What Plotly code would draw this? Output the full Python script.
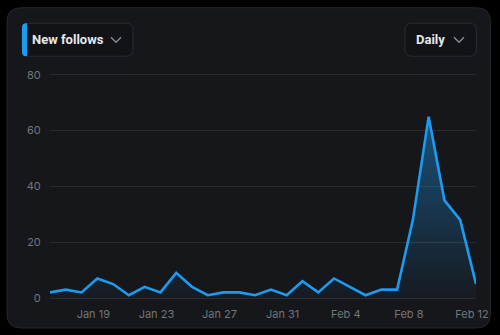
import plotly.graph_objects as go
import pandas as pd

# ---- data ----
start_date = "2024-01-16"
new_follows = [2, 3, 2, 7, 5, 1, 4, 2, 9, 4, 1, 2, 2, 1, 3, 1, 6, 2, 7, 4, 1, 3, 3, 28, 65, 35, 28, 5]
dates = pd.date_range(start_date, periods=len(new_follows), freq="D")
tick_dates = ["2024-01-19", "2024-01-23", "2024-01-27", "2024-01-31", "2024-02-04", "2024-02-08", "2024-02-12"]
tick_labels = ["Jan 19", "Jan 23", "Jan 27", "Jan 31", "Feb 4", "Feb 8", "Feb 12"]
y_ticks = [0, 20, 40, 60, 80]
metric_label = "New follows"
period_label = "Daily"

# ---- layout geometry (pixels) ----
W, H = 500, 335
Y_MAX = 81
L, R, B = 50, 476, 298
PPU = (298 - 75) / 80.0          # pixels per unit on y
T = B - Y_MAX * PPU


def px(x):
    return (x - L) / (R - L)


def py(y):
    return (B - y) / (B - T)


def rrect(x0, y0, x1, y1, r, left_only=False):
    rr = 0 if left_only else r
    p = (f"M {px(x0 + r)},{py(y0)} "
         f"L {px(x1 - rr)},{py(y0)} "
         f"Q {px(x1)},{py(y0)} {px(x1)},{py(y0 + rr)} "
         f"L {px(x1)},{py(y1 - rr)} "
         f"Q {px(x1)},{py(y1)} {px(x1 - rr)},{py(y1)} "
         f"L {px(x0 + r)},{py(y1)} "
         f"Q {px(x0)},{py(y1)} {px(x0)},{py(y1 - r)} "
         f"L {px(x0)},{py(y0 + r)} "
         f"Q {px(x0)},{py(y0)} {px(x0 + r)},{py(y0)} Z")
    return p


def chevron(x0, y0, w, h):
    return f"M {px(x0)},{py(y0)} L {px(x0 + w / 2)},{py(y0 + h)} L {px(x0 + w)},{py(y0)}"


BLUE = "#1d9bf0"
CARD = "#16171b"
BTN = "#121316"
BORDER = "#2a2c31"
MUTED = "#71767b"
GRID = "#2a2c30"

fig = go.Figure()
fig.add_trace(go.Scatter(
    x=dates, y=new_follows, mode="lines",
    line=dict(color=BLUE, width=2.6),
    fill="tozeroy",
    fillgradient=dict(type="vertical", start=0, stop=65,
                      colorscale=[[0, "rgba(29,155,240,0.03)"], [1, "rgba(29,155,240,0.45)"]]),
    hoverinfo="skip", cliponaxis=False,
))

shapes = [
    dict(type="path", xref="paper", yref="paper", layer="below",
         path=rrect(7, 8, 490.5, 328, 14), fillcolor=CARD, line=dict(color="#24262a", width=1)),
    dict(type="path", xref="paper", yref="paper", layer="below",
         path=rrect(22, 23.5, 133, 56.5, 7), fillcolor=BTN, line=dict(color=BORDER, width=1)),
    dict(type="path", xref="paper", yref="paper", layer="above",
         path=rrect(22, 23.5, 27, 56.5, 4, left_only=True), fillcolor=BLUE, line=dict(width=0)),
    dict(type="path", xref="paper", yref="paper", layer="above",
         path=chevron(111, 37.5, 10, 5), line=dict(color="#8b8f96", width=1.3)),
    dict(type="path", xref="paper", yref="paper", layer="below",
         path=rrect(405, 23.5, 476.5, 56.5, 7), fillcolor=BTN, line=dict(color=BORDER, width=1)),
    dict(type="path", xref="paper", yref="paper", layer="above",
         path=chevron(454, 37.5, 10, 5), line=dict(color="#8b8f96", width=1.3)),
]

annotations = [
    dict(text=f"<b>{metric_label}</b>", x=px(30), y=py(40), xref="paper", yref="paper",
         xanchor="left", yanchor="middle", showarrow=False,
         font=dict(family="Roboto", size=13, color="#e7e9ea")),
    dict(text=f"<b>{period_label}</b>", x=px(414), y=py(40), xref="paper", yref="paper",
         xanchor="left", yanchor="middle", showarrow=False,
         font=dict(family="Roboto", size=13, color="#e7e9ea")),
]

fig.update_layout(
    width=W, height=H,
    margin=dict(l=L, r=W - R, t=T, b=H - B, pad=0),
    paper_bgcolor="#000000", plot_bgcolor="rgba(0,0,0,0)",
    showlegend=False,
    font=dict(family="Inter", size=11, color=MUTED),
    shapes=shapes, annotations=annotations,
    xaxis=dict(type="date", range=[dates[0], dates[-1]],
               tickvals=tick_dates, ticktext=tick_labels,
               showgrid=False, zeroline=False, showline=False,
               ticks="outside", ticklen=6, tickcolor="rgba(0,0,0,0)",
               ticklabelshift=-4,
               tickfont=dict(family="Inter", size=11, color=MUTED),
               fixedrange=True),
    yaxis=dict(range=[0, Y_MAX], tickvals=y_ticks,
               showgrid=True, gridcolor=GRID, gridwidth=1,
               zeroline=True, zerolinecolor=GRID, zerolinewidth=1, showline=False,
               ticks="outside", ticklen=6, tickcolor="rgba(0,0,0,0)",
               tickfont=dict(family="Inter", size=11, color=MUTED),
               fixedrange=True),
)

fig.write_html("out.html", config={"displayModeBar": False})
